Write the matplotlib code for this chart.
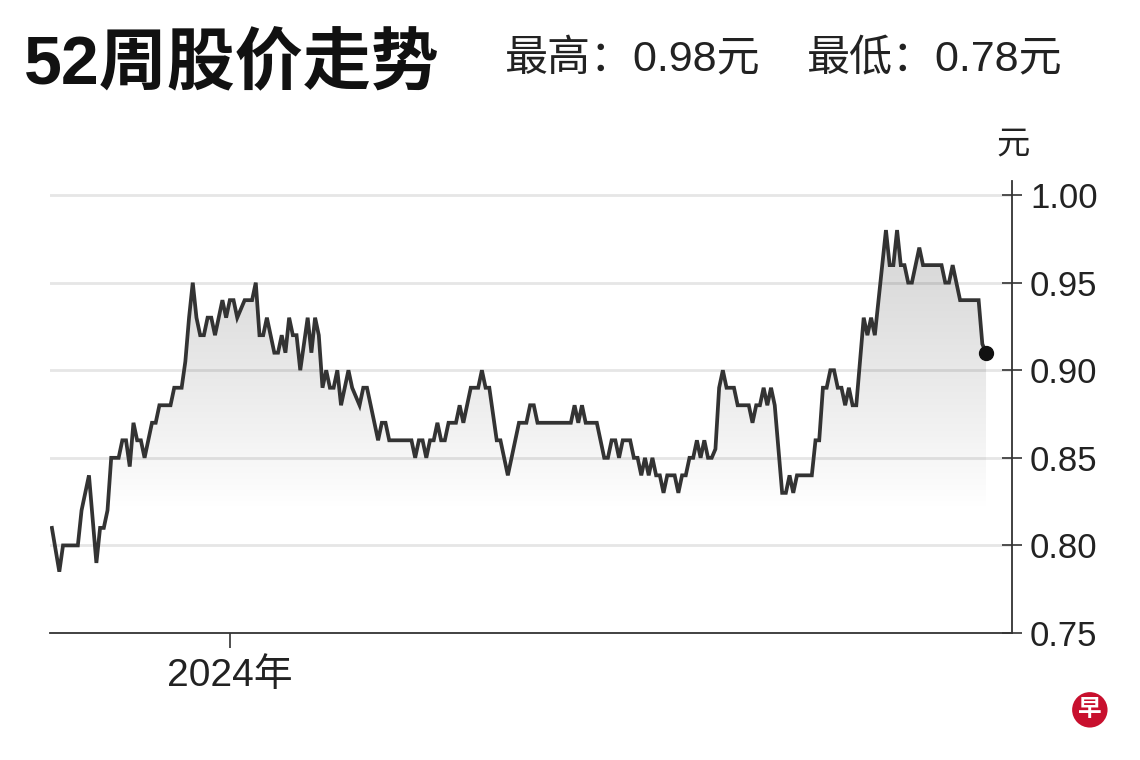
import numpy as np
import pandas as pd
import matplotlib
matplotlib.use('Agg')
from matplotlib import pyplot as plt
from matplotlib.patches import Polygon

plt.rcParams['font.family'] = ['Liberation Sans', 'Noto Sans CJK SC', 'DejaVu Sans']

# trading day number (counted from 2023-10-25) and close price at each turning point
days = [0, 2, 3, 7, 8, 10, 12, 13, 14, 15,
        16, 18, 19, 20, 21, 22, 23, 24, 25, 27,
        28, 29, 32, 33, 35, 36, 37, 38, 39, 40,
        41, 42, 43, 44, 46, 47, 48, 49, 50, 52,
        54, 55, 56, 57, 58, 60, 61, 62, 63, 64,
        65, 66, 67, 69, 70, 71, 72, 73, 74, 75,
        76, 77, 78, 80, 81, 83, 84, 85, 88, 89,
        90, 91, 97, 98, 99, 100, 101, 102, 103, 104,
        105, 106, 107, 109, 110, 111, 113, 115, 116, 117,
        118, 120, 121, 123, 126, 128, 129, 130, 131, 140,
        141, 142, 143, 144, 147, 149, 150, 151, 152, 153,
        154, 156, 157, 158, 159, 160, 161, 162, 163, 164,
        165, 166, 168, 169, 170, 171, 172, 173, 174, 175,
        176, 177, 178, 179, 180, 181, 182, 184, 185, 188,
        189, 190, 191, 192, 193, 194, 195, 197, 198, 199,
        200, 201, 205, 206, 207, 208, 209, 210, 211, 212,
        213, 214, 215, 216, 217, 219, 220, 221, 222, 223,
        224, 225, 226, 227, 228, 229, 230, 231, 232, 234,
        235, 240, 241, 242, 243, 245, 250, 251, 252]
prices = [0.81, 0.785, 0.80, 0.80, 0.82, 0.84, 0.79, 0.81, 0.81, 0.82,
          0.85, 0.85, 0.86, 0.86, 0.845, 0.87, 0.86, 0.86, 0.85, 0.87,
          0.87, 0.88, 0.88, 0.89, 0.89, 0.905, 0.93, 0.95, 0.93, 0.92,
          0.92, 0.93, 0.93, 0.92, 0.94, 0.93, 0.94, 0.94, 0.93, 0.94,
          0.94, 0.95, 0.92, 0.92, 0.93, 0.91, 0.91, 0.92, 0.91, 0.93,
          0.92, 0.92, 0.90, 0.93, 0.91, 0.93, 0.92, 0.89, 0.90, 0.89,
          0.89, 0.90, 0.88, 0.90, 0.89, 0.88, 0.89, 0.89, 0.86, 0.87,
          0.87, 0.86, 0.86, 0.85, 0.86, 0.86, 0.85, 0.86, 0.86, 0.87,
          0.86, 0.86, 0.87, 0.87, 0.88, 0.87, 0.89, 0.89, 0.90, 0.89,
          0.89, 0.86, 0.86, 0.84, 0.87, 0.87, 0.88, 0.88, 0.87, 0.87,
          0.88, 0.87, 0.88, 0.87, 0.87, 0.85, 0.85, 0.86, 0.86, 0.85,
          0.86, 0.86, 0.85, 0.85, 0.84, 0.85, 0.84, 0.85, 0.84, 0.84,
          0.83, 0.84, 0.84, 0.83, 0.84, 0.84, 0.85, 0.85, 0.86, 0.85,
          0.86, 0.85, 0.85, 0.855, 0.89, 0.90, 0.89, 0.89, 0.88, 0.88,
          0.87, 0.88, 0.88, 0.89, 0.88, 0.89, 0.88, 0.83, 0.83, 0.84,
          0.83, 0.84, 0.84, 0.86, 0.86, 0.89, 0.89, 0.90, 0.90, 0.89,
          0.89, 0.88, 0.89, 0.88, 0.88, 0.93, 0.92, 0.93, 0.92, 0.94,
          0.96, 0.98, 0.96, 0.96, 0.98, 0.96, 0.96, 0.95, 0.95, 0.97,
          0.96, 0.96, 0.95, 0.95, 0.96, 0.94, 0.94, 0.915, 0.91]

start_date = '2023-10-25'
yticks = [0.75, 0.80, 0.85, 0.90, 0.95, 1.00]
high_txt = '最高：0.98元'
low_txt = '最低：0.78元'

dates = pd.bdate_range(start_date, periods=days[-1] + 1)
year_idx = int(np.argmax(dates.year == 2024))

fig = plt.figure(figsize=(11.4, 7.6), dpi=100)
ax = fig.add_axes([0.0439, 0.1671, 0.8438, 0.5947])

# grid
for y in yticks[1:]:
    ax.axhline(y, color='#e6e6e6', lw=2, zorder=0)

# gradient fill under the line, fades out towards ~0.82
poly = Polygon(list(zip(days, prices)) + [(days[-1], 0.75), (days[0], 0.75)],
               closed=True, fc='none', ec='none')
ax.add_patch(poly)
grad = np.zeros((256, 1, 4))
yy = np.linspace(1.0, 0.75, 256)
grad[:, 0, 3] = np.clip((yy - 0.82) / 0.17, 0, 1) ** 0.9 * 0.18
img = ax.imshow(grad, extent=[days[0], days[-1], 0.75, 1.0], aspect='auto',
                origin='upper', zorder=1, interpolation='bilinear')
img.set_clip_path(poly)

ax.plot(days, prices, color='#333333', lw=2.7, zorder=3, solid_joinstyle='miter')
ax.plot(days[-1], prices[-1], 'o', color='#111111', ms=10, zorder=4)

ax.set_xlim(-0.5, 259)
ax.set_ylim(0.75, 1.008)

for s in ['top', 'left']:
    ax.spines[s].set_visible(False)
ax.spines['right'].set_color('#333333')
ax.spines['bottom'].set_color('#333333')
ax.spines['right'].set_linewidth(1.3)
ax.spines['bottom'].set_linewidth(1.3)

ax.yaxis.tick_right()
ax.set_yticks(yticks)
ax.set_yticklabels([f'{v:.2f}' for v in yticks])
ax.tick_params(axis='y', direction='inout', length=14, width=1.2, color='#333333',
               labelsize=25, labelcolor='#222222', pad=6)
ax.set_xticks([year_idx])
ax.set_xticklabels([f'{dates[year_idx].year}年'])
ax.tick_params(axis='x', direction='out', length=11, width=1.2, color='#333333',
               labelsize=28, labelcolor='#222222', pad=7)

fig.text(0.874, 0.809, '元', fontsize=24, color='#222222', va='center', ha='left')
fig.text(0.021, 0.913, '52周股价走势', fontsize=49, fontweight='bold',
         color='#111111', va='center', ha='left')
fig.text(0.443, 0.92, high_txt, fontsize=31, color='#222222', va='center', ha='left')
fig.text(0.708, 0.92, low_txt, fontsize=31, color='#222222', va='center', ha='left')
fig.text(0.956, 0.066, '早', fontsize=17, fontweight='bold', color='white',
         ha='center', va='center',
         bbox=dict(boxstyle='circle,pad=0.25', fc='#c8102e', ec='none'))

fig.savefig('out.png', dpi=100)
